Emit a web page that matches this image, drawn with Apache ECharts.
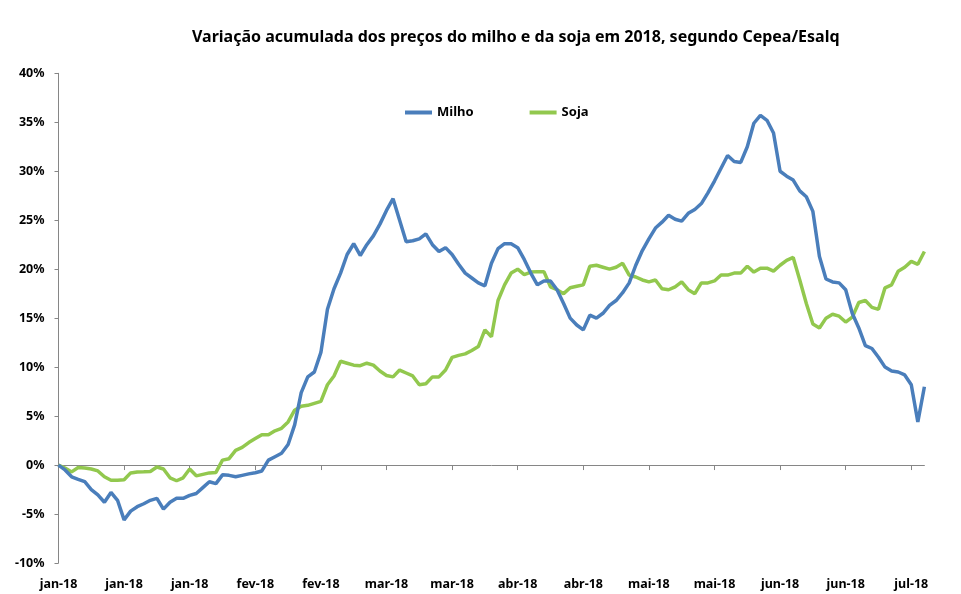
<!DOCTYPE html>
<html>
<head>
<meta charset="utf-8">
<script src="https://cdn.jsdelivr.net/npm/echarts@6/dist/echarts.min.js"></script>
<style>
html,body{margin:0;padding:0;background:#fff;}
#chart{width:961px;height:594px;}
</style>
</head>
<body>
<div id="chart"></div>
<script>
var titleText = 'Variação acumulada dos preços do milho e da soja em 2018, segundo Cepea/Esalq';
var monthLabels = ['jan-18','fev-18','mar-18','abr-18','mai-18','jun-18','jul-18'];
var monthCounts = [22,20,21,20,21,21,8];
var seriesNames = ['Milho','Soja'];

var milho = [
 0,-0.5,-1.2,-1.46,-1.7,-2.5,-3.05,-3.8,-2.8,-3.6,
 -5.6,-4.7,-4.25,-3.95,-3.6,-3.4,-4.5,-3.8,-3.4,-3.4,
 -3.1,-2.9,-2.3,-1.7,-1.9,-1.0,-1.05,-1.2,-1.05,-0.9,
 -0.78,-0.6,0.5,0.85,1.2,2.1,4.1,7.4,9.0,9.5,
 11.5,15.9,18.0,19.6,21.5,22.6,21.4,22.5,23.4,24.6,
 26.0,27.2,25.0,22.8,22.9,23.1,23.6,22.5,21.8,22.2,
 21.5,20.5,19.6,19.1,18.6,18.3,20.6,22.1,22.6,22.6,
 22.2,21.0,19.6,18.4,18.8,18.8,17.9,16.5,15.0,14.3,
 13.8,15.3,15.0,15.5,16.3,16.8,17.6,18.6,20.4,21.9,
 23.1,24.2,24.8,25.5,25.1,24.9,25.7,26.1,26.7,27.8,
 29.0,30.3,31.6,31.0,30.9,32.5,34.9,35.7,35.2,33.9,
 30.0,29.5,29.1,28.0,27.4,25.9,21.3,19.0,18.7,18.6,
 17.9,15.5,14.0,12.2,11.9,11.0,10.0,9.6,9.5,9.2,
 8.2,4.4,8.0
];
var soja = [
 0,-0.3,-0.7,-0.25,-0.3,-0.4,-0.6,-1.2,-1.55,-1.55,
 -1.5,-0.8,-0.7,-0.68,-0.65,-0.2,-0.4,-1.3,-1.6,-1.3,
 -0.4,-1.1,-0.95,-0.8,-0.75,0.5,0.65,1.5,1.8,2.3,
 2.7,3.1,3.1,3.5,3.75,4.4,5.6,6.0,6.1,6.3,
 6.5,8.2,9.1,10.6,10.4,10.2,10.15,10.4,10.2,9.6,
 9.15,9.0,9.7,9.4,9.1,8.2,8.3,9.0,9.0,9.7,
 11.0,11.2,11.35,11.7,12.1,13.8,13.1,16.8,18.4,19.6,
 20.0,19.45,19.7,19.75,19.75,18.2,17.9,17.5,18.1,18.25,
 18.4,20.3,20.4,20.2,20.0,20.2,20.6,19.4,19.2,18.9,
 18.7,18.9,18.0,17.9,18.2,18.7,17.9,17.5,18.6,18.6,
 18.8,19.4,19.4,19.6,19.6,20.3,19.7,20.1,20.1,19.8,
 20.4,20.9,21.2,18.9,16.5,14.4,14.0,15.0,15.4,15.2,
 14.6,15.1,16.6,16.8,16.1,15.9,18.1,18.4,19.8,20.2,
 20.8,20.5,21.8
];

var categories = [];
monthLabels.forEach(function(m, k){
  for (var j = 0; j < monthCounts[k]; j++) categories.push(m);
});

var chart = echarts.init(document.getElementById('chart'), null, {renderer:'canvas'});
var fontFam = '"Noto Sans", "DejaVu Sans", sans-serif';
chart.setOption({
  animation: false,
  backgroundColor: '#ffffff',
  title: {
    text: titleText,
    left: 187, top: 24,
    textStyle: {fontFamily: fontFam, fontSize: 16, fontWeight: 'bold', color: '#000'}
  },
  legend: {
    data: seriesNames,
    left: 400, top: 101,
    icon: 'rect', itemWidth: 27, itemHeight: 4, itemGap: 56,
    textStyle: {fontFamily: fontFam, fontSize: 13, fontWeight: 'bold', color: '#000'}
  },
  grid: {left: 58.5, right: 36.6, top: 73.3, bottom: 31, containLabel: false},
  xAxis: [{
    type: 'category', data: categories, boundaryGap: false,
    position: 'bottom',
    axisLine: {show: false, onZero: false},
    axisTick: {show: false},
    axisLabel: {interval: 9, margin: 15, fontFamily: fontFam, fontSize: 12.5, fontWeight: 'bold', color: '#000'},
    splitLine: {show: false}
  }, {
    type: 'category', data: categories, boundaryGap: false,
    position: 'bottom',
    axisLine: {show: true, onZero: true, lineStyle: {color: '#868686', width: 1}},
    axisTick: {show: true, interval: 9, length: 5, lineStyle: {color: '#868686'}},
    axisLabel: {show: false},
    splitLine: {show: false}
  }],
  yAxis: {
    type: 'value', min: -10, max: 40, interval: 5,
    axisLine: {show: true, lineStyle: {color: '#868686', width: 1}},
    axisTick: {show: true, length: 4, lineStyle: {color: '#868686'}},
    axisLabel: {formatter: '{value}%', margin: 14, fontFamily: fontFam, fontSize: 12.5, fontWeight: 'bold', color: '#000'},
    splitLine: {show: false}
  },
  series: [{
    name: seriesNames[0], type: 'line', data: milho, xAxisIndex: 0,
    symbol: 'none', lineStyle: {color: '#4A7EBB', width: 3.5}, itemStyle: {color: '#4A7EBB'}, z: 3
  }, {
    name: seriesNames[1], type: 'line', data: soja, xAxisIndex: 0,
    symbol: 'none', lineStyle: {color: '#92C84E', width: 3.5}, itemStyle: {color: '#92C84E'}, z: 2
  }]
});
</script>
</body>
</html>
